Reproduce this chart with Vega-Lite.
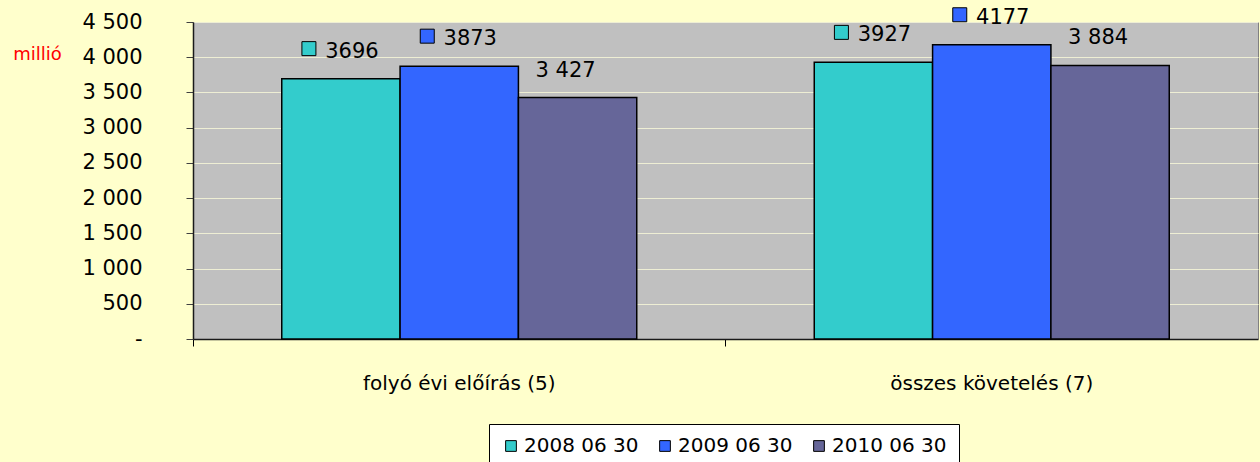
{
  "$schema": "https://vega.github.io/schema/vega-lite/v6.json",
  "width": 1065,
  "height": 317,
  "autosize": {"type": "none"},
  "padding": {"left": 193, "top": 22, "right": 2, "bottom": 123},
  "background": "#FFFFCC",
  "config": {
    "view": {"fill": "#C0C0C0", "stroke": "#808080", "strokeWidth": 1},
    "font": "DejaVu Sans"
  },
  "data": {
    "values": [
      {"category": "folyó évi előírás (5)", "series": "2008 06 30", "value": 3696, "label": "3696"},
      {"category": "folyó évi előírás (5)", "series": "2009 06 30", "value": 3873, "label": "3873"},
      {"category": "folyó évi előírás (5)", "series": "2010 06 30", "value": 3427, "label": "3 427"},
      {"category": "összes követelés (7)", "series": "2008 06 30", "value": 3927, "label": "3927"},
      {"category": "összes követelés (7)", "series": "2009 06 30", "value": 4177, "label": "4177"},
      {"category": "összes követelés (7)", "series": "2010 06 30", "value": 3884, "label": "3 884"}
    ]
  },
  "encoding": {
    "x": {
      "field": "category",
      "type": "nominal",
      "sort": null,
      "scale": {"paddingInner": 0, "paddingOuter": 0},
      "axis": {
        "title": null,
        "labelAngle": 0,
        "labelLimit": 0,
        "labelFont": "DejaVu Sans",
        "labelFontSize": 20,
        "labelColor": "#000000",
        "labelBaseline": "alphabetic",
        "labelPadding": 43,
        "tickSize": 7,
        "tickColor": "#000000",
        "bandPosition": 0,
        "domainColor": "#1a1a1a",
        "domainWidth": 1.5,
        "grid": false
      }
    },
    "xOffset": {
      "field": "series",
      "type": "nominal",
      "sort": null,
      "scale": {"paddingInner": 0, "paddingOuter": 0.75}
    },
    "y": {
      "field": "value",
      "type": "quantitative",
      "scale": {"domain": [0, 4500], "nice": false},
      "axis": {
        "values": [0, 500, 1000, 1500, 2000, 2500, 3000, 3500, 4000, 4500],
        "labelExpr": "datum.value == 0 ? '-' : replace(format(datum.value, ','), ',', ' ')",
        "labelFont": "DejaVu Sans",
        "labelFontSize": 21,
        "labelColor": "#000000",
        "labelPadding": 44,
        "tickSize": 7,
        "tickColor": "#404040",
        "domainColor": "#1a1a1a",
        "domainWidth": 1.5,
        "grid": true,
        "gridColor": "#EEEED4",
        "gridWidth": 1,
        "title": "millió",
        "titleAngle": 0,
        "titleX": -156,
        "titleY": 37,
        "titleAlign": "center",
        "titleBaseline": "alphabetic",
        "titleColor": "#FF0000",
        "titleFont": "DejaVu Sans",
        "titleFontSize": 18,
        "titleFontWeight": "normal"
      }
    }
  },
  "layer": [
    {
      "mark": {"type": "bar", "stroke": "#000000", "strokeWidth": 1.5},
      "encoding": {
        "color": {
          "field": "series",
          "type": "nominal",
          "sort": null,
          "scale": {"domain": ["2008 06 30", "2009 06 30", "2010 06 30"], "range": ["#33CCCC", "#3366FF", "#666699"]},
          "legend": {
            "title": null,
            "orient": "none",
            "legendX": 296,
            "legendY": 402,
            "direction": "horizontal",
            "columns": 3,
            "symbolType": "square",
            "symbolSize": 115,
            "symbolStrokeColor": "#000000",
            "symbolStrokeWidth": 1,
            "symbolOpacity": 1,
            "labelFont": "DejaVu Sans",
            "labelFontSize": 20,
            "labelColor": "#000000",
            "labelOffset": 3,
            "columnPadding": 16,
            "padding": 12,
            "strokeColor": "#000000",
            "fillColor": "#FFFFFF"
          }
        }
      }
    },
    {
      "transform": [{"filter": "datum.series != '2010 06 30'"}],
      "mark": {"type": "text", "baseline": "alphabetic", "align": "center", "dx": 11, "dy": -21, "fontSize": 21, "font": "DejaVu Sans", "color": "#000000"},
      "encoding": {"text": {"field": "label"}}
    },
    {
      "transform": [{"filter": "datum.series == '2010 06 30'"}],
      "mark": {"type": "text", "baseline": "alphabetic", "align": "center", "dx": -12, "dy": -21, "fontSize": 21, "font": "DejaVu Sans", "color": "#000000"},
      "encoding": {"text": {"field": "label"}}
    },
    {
      "transform": [{"filter": "datum.series != '2010 06 30'"}],
      "mark": {"type": "point", "shape": "M -5.571 -1 H -3.571 V 1 H -5.571 Z", "filled": true, "size": 196, "stroke": "#000000", "strokeWidth": 1, "opacity": 1, "yOffset": -30},
      "encoding": {
        "color": {"field": "series", "type": "nominal", "sort": null}
      }
    }
  ]
}
